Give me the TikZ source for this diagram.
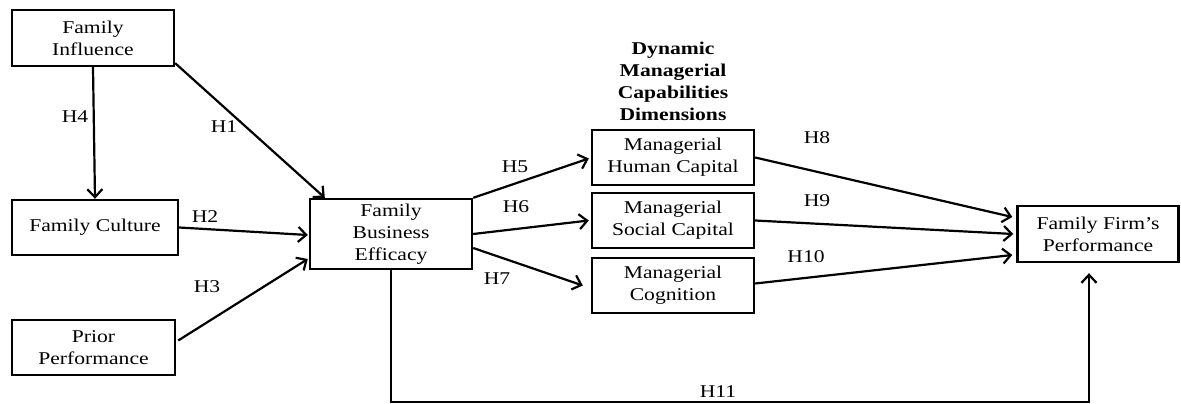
\documentclass[tikz,border=0pt]{standalone}
\usepackage{fontspec}
\setmainfont{Liberation Serif}[FakeStretch=1.2]
\usetikzlibrary{arrows.meta,calc}
\begin{document}
\begin{tikzpicture}[x=1pt,y=-1pt,
  box/.style={draw,line width=2.4pt,rectangle,inner sep=0pt,align=center,font=\fontsize{18}{22}\selectfont},
  lbl/.style={inner sep=0pt,font=\fontsize{18}{22}\selectfont},
  arr/.style={line width=2.2pt,-{Straight Barb[length=8pt,width=15pt,line width=2.2pt]}}]
\useasboundingbox (0,0) rectangle (1181,404);
\node[box,minimum width=162pt,minimum height=56pt] (fi) at (93,38) {Family\\Influence};
\node[box,minimum width=166pt,minimum height=55pt] (fc) at (95,227.5) {Family Culture};
\node[box,minimum width=163pt,minimum height=55pt] (pp) at (93.5,347.5) {Prior\\Performance};
\node[box,minimum width=162pt,minimum height=70pt] (fbe) at (391,234) {Family\\Business\\Efficacy};
\node[box,minimum width=162pt,minimum height=55pt] (mhc) at (673,157.5) {Managerial\\Human Capital};
\node[box,minimum width=162pt,minimum height=55pt] (msc) at (673,220.5) {Managerial\\Social Capital};
\node[box,minimum width=162pt,minimum height=55pt] (mc) at (673,285.5) {Managerial\\Cognition};
\node[box,minimum width=161pt,minimum height=56pt] (ffp) at (1098,234) {Family Firm’s\\Performance};
\node[align=center,inner sep=0pt,font=\fontsize{18}{22}\selectfont\bfseries] (title) at (673,81) {Dynamic\\Managerial\\Capabilities\\Dimensions};

\draw[arr] (fi.south) -- (fc.north);
\draw[arr] ($(fi.south east)+(0,-4)$) -- ($(fbe.north west)+(16,0)$);
\draw[arr] (fc.east) -- ($(fbe.west)+(-1,1)$);
\draw[arr] ($(pp.east)+(2,-7)$) -- ($(fbe.west)+(-1,25)$);
\draw[arr] (fbe.north east) -- ($(mhc.west)+(-2,1)$);
\draw[arr] (fbe.east) -- ($(msc.west)+(-2,0)$);
\draw[arr] ($(fbe.east)+(0,14)$) -- ($(mc.west)+(-8,0)$);
\draw[arr] (mhc.east) -- ($(ffp.west)+(-4,-17)$);
\draw[arr] (msc.east) -- ($(ffp.west)+(-3,0)$);
\draw[arr] ($(mc.east)+(0,-2)$) -- ($(ffp.west)+(-4,21)$);
\coordinate (h11end) at ($(ffp.south)+(-9,10)$);
\coordinate (h11low) at ($(fbe.south)+(0,132)$);
\draw[arr] (fbe.south) -- (h11low) -| (h11end);

\node[lbl] (h4) at (75,117) {H4};
\node[lbl] (h1) at (224,127) {H1};
\node[lbl] (h2) at (205,217) {H2};
\node[lbl] (h3) at (207,287) {H3};
\node[lbl] (h5) at (515,167) {H5};
\node[lbl] (h6) at (516,207) {H6};
\node[lbl] (h7) at (497,279) {H7};
\node[lbl] (h8) at (817,138) {H8};
\node[lbl] (h9) at (817,201) {H9};
\node[lbl] (h10) at (806,257) {H10};
\node[lbl] (h11) at (718,392) {H11};
\end{tikzpicture}
\end{document}
